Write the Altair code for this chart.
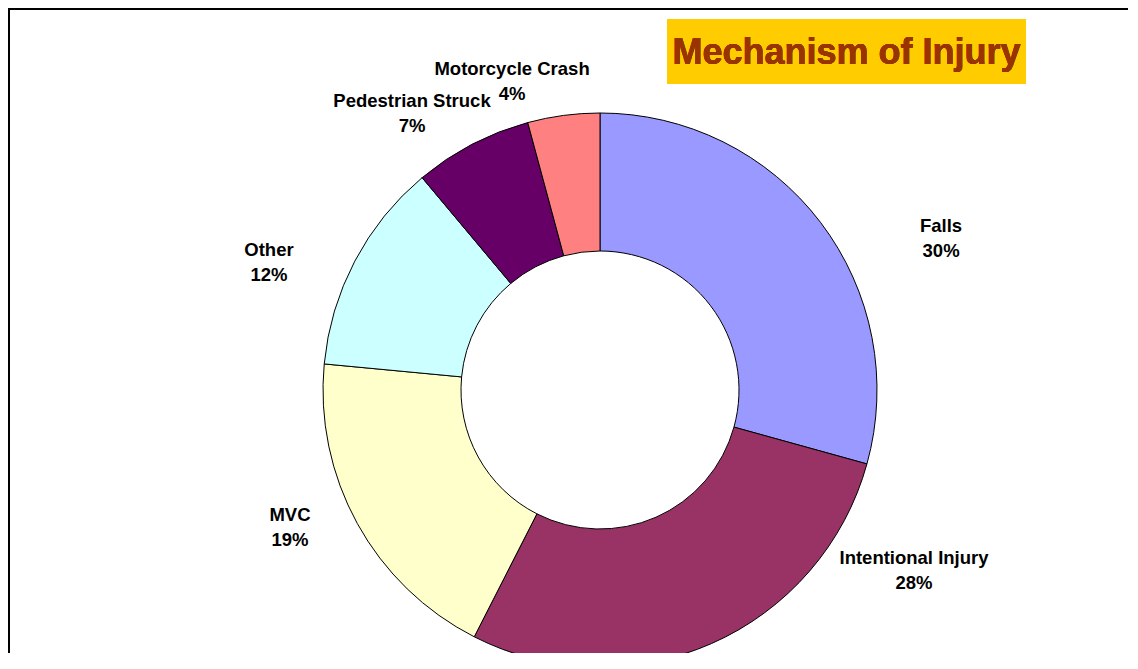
import altair as alt
import pandas as pd

categories = ["Falls", "Intentional Injury", "MVC", "Other", "Pedestrian Struck", "Motorcycle Crash"]
shares = [29.3, 28.2, 19.0, 12.4, 6.9, 4.2]
pct_labels = ["30%", "28%", "19%", "12%", "7%", "4%"]
colors = ["#9999FF", "#993366", "#FFFFCC", "#CCFFFF", "#660066", "#FF8080"]

# label nudges (pixels) from the outer edge at each slice's mid-angle
label_nudge = {
    "Falls": (120.6, 3.7),
    "Intentional Injury": (202.4, -85.5),
    "MVC": (-67.3, -8.5),
    "Other": (-85.8, -11.2),
    "Pedestrian Struck": (-59.9, -43.4),
    "Motorcycle Crash": (-51.5, -46.4),
}

df = pd.DataFrame({
    "category": categories,
    "share": shares,
    "pct": pct_labels,
    "order": list(range(len(categories))),
})
df["label"] = df["category"] + "\n" + df["pct"]

W, H = 1120, 645
CX, CY = 592, 382
R_OUT, R_IN = 277, 139

base = alt.Chart(df)

donut = base.mark_arc(
    outerRadius=R_OUT, innerRadius=R_IN, stroke="black", strokeWidth=1
).encode(
    theta=alt.Theta("share:Q", stack=True),
    order=alt.Order("order:Q"),
    color=alt.Color("category:N", scale=alt.Scale(domain=categories, range=colors), legend=None),
    x=alt.value(CX),
    y=alt.value(CY),
)

labels = []
for cat in categories:
    dx, dy = label_nudge[cat]
    labels.append(
        base.mark_text(
            font="Liberation Sans", fontWeight="bold", fontSize=18.5, color="black",
            lineBreak="\n", lineHeight=25, align="center", baseline="middle",
            radius=R_OUT, dx=dx, dy=dy,
        ).encode(
            theta=alt.Theta("share:Q", stack=True),
            order=alt.Order("order:Q"),
            text="label:N",
            x=alt.value(CX),
            y=alt.value(CY),
            opacity=alt.condition(alt.datum.category == cat, alt.value(1), alt.value(0)),
        )
    )

title_box = base.mark_rect(color="#FFCC00").encode(
    x=alt.value(659), x2=alt.value(1018), y=alt.value(11), y2=alt.value(76)
)
title_text = base.mark_text(
    text="Mechanism of Injury", font="Liberation Sans", fontWeight="bold", fontSize=36,
    color="#993300", align="center", baseline="middle",
).encode(x=alt.value(838.5), y=alt.value(44.5))

top_rule = base.mark_rule(color="black", strokeWidth=2).encode(
    x=alt.value(0), x2=alt.value(W), y=alt.value(1)
)
left_rule = base.mark_rule(color="black", strokeWidth=2).encode(
    x=alt.value(1), y=alt.value(0), y2=alt.value(H)
)

chart = alt.layer(donut, *labels, title_box, title_text, top_rule, left_rule).properties(
    width=W, height=H, padding=0, autosize=alt.AutoSizeParams(type="none")
).configure_view(stroke=None)

chart.save("out.html", embed_options={"renderer": "svg", "actions": False})
